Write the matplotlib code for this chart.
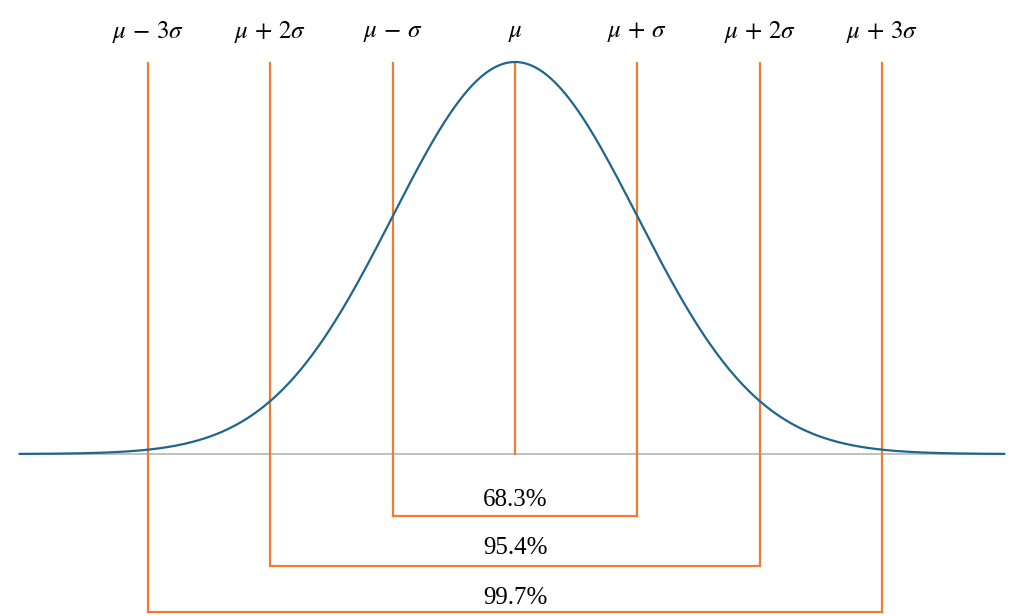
import numpy as np
import matplotlib
matplotlib.use("Agg")
import matplotlib.pyplot as plt

# Data
sigma_offsets = [-3, -2, -1, 0, 1, 2, 3]
top_labels = [r"$\mu\,-\,3\sigma$", r"$\mu\,+\,2\sigma$", r"$\mu\,-\,\sigma$", r"$\mu$",
              r"$\mu\,+\,\sigma$", r"$\mu\,+\,2\sigma$", r"$\mu\,+\,3\sigma$"]
bracket_k = [1, 2, 3]
bracket_labels = ["68.3%", "95.4%", "99.7%"]

orange = "#ED7D31"
blue = "#1D668C"

plt.rcParams['mathtext.fontset'] = 'stix'

fig = plt.figure(figsize=(10.24, 6.16), dpi=100)
ax = fig.add_axes([0, 0, 1, 1])
ax.set_xlim(-515/122.3, (1024-515)/122.3)
peak = 1/np.sqrt(2*np.pi)
scale = peak/392.0
ax.set_ylim(-162*scale, 454*scale)
ax.axis('off')

x = np.linspace(-4.05, 4.0, 800)
y = np.exp(-x**2/2)/np.sqrt(2*np.pi)
ax.plot([-4.05, 4.0], [0, 0], color="#BBBBBB", lw=1.3, zorder=1)
ax.plot(x, y, color=blue, lw=1.6, zorder=3)

top_y = peak - 1*scale
bottoms = {1: -62*scale, 2: -112*scale, 3: -158*scale}
text_y = {1: -46*scale, 2: -94*scale, 3: -144*scale}

for k, lab in zip(sigma_offsets, top_labels):
    bot = bottoms[abs(k)] if k != 0 else 0
    ax.plot([k, k], [top_y, bot], color=orange, lw=1.6, zorder=2)
    ax.text(k, 422*scale, lab, ha='center', va='center', fontsize=18, color='black')

for k, lab in zip(bracket_k, bracket_labels):
    ax.plot([-k, k], [bottoms[k], bottoms[k]], color=orange, lw=1.6, zorder=2)
    ax.text(0, text_y[k], lab, ha='center', va='center', fontsize=18,
            family='Liberation Serif', color='black', zorder=4)

fig.savefig("out.png", dpi=100)
